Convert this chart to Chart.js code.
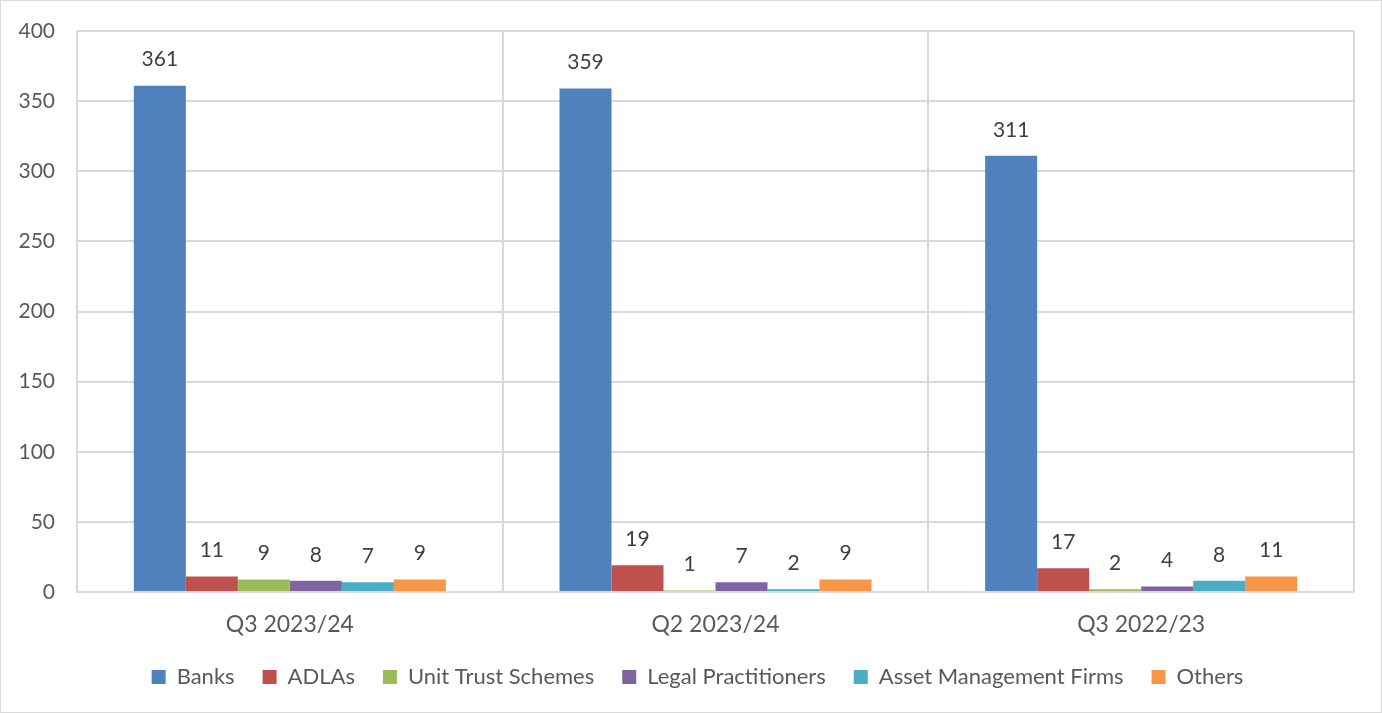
<!DOCTYPE html>
<html>
<head>
<meta charset="utf-8">
<script src="https://cdn.jsdelivr.net/npm/chart.js@4"></script>
<style>
  html, body { margin: 0; padding: 0; background: #fff; }
  #wrap { position: relative; width: 1382px; height: 713px; box-sizing: border-box; border: 1px solid #d9d9d9; }
</style>
</head>
<body>
<div id="wrap"><canvas id="chart"></canvas></div>
<script>
const periods = ['Q3 2023/24', 'Q2 2023/24', 'Q3 2022/23']
const banks = [361, 359, 311]
const adlas = [11, 19, 17]
const unitTrusts = [9, 1, 2]
const legalPractitioners = [8, 7, 4]
const assetManagers = [7, 2, 8]
const others = [9, 9, 11]
const yTicks = [0, 50, 100, 150, 200, 250, 300, 350, 400]

const FONT = 'Lato, "Open Sans", sans-serif'

// draws the value above every bar
const barValues = {
  id: 'barValues',
  afterDatasetsDraw(chart) {
    const ctx = chart.ctx
    ctx.save()
    ctx.font = '21px ' + FONT
    ctx.fillStyle = '#404040'
    ctx.textAlign = 'center'
    ctx.textBaseline = 'middle'
    chart.data.datasets.forEach((ds, i) => {
      chart.getDatasetMeta(i).data.forEach((bar, j) => {
        ctx.fillText(ds.data[j], bar.x, bar.y - 26)
      })
    })
    ctx.restore()
  }
}

// fixed legend height, and the legend nudged a bit to the right
const legendTweak = {
  id: 'legendTweak',
  afterInit(chart) {
    const legend = chart.legend
    const fit = legend.fit
    legend.fit = function () {
      fit.call(this)
      this.height = 74
    }
    const draw = legend.draw
    legend.draw = function () {
      chart.ctx.save()
      chart.ctx.translate(13, 0)
      draw.call(this)
      chart.ctx.restore()
    }
  }
}

function series(label, data, color) {
  return { label, data, backgroundColor: color, borderWidth: 0 }
}

new Chart(document.getElementById('chart'), {
  type: 'bar',
  data: {
    labels: periods,
    datasets: [
      series('Banks', banks, '#4f81bd'),
      series('ADLAs', adlas, '#c0504d'),
      series('Unit Trust Schemes', unitTrusts, '#9bbb59'),
      series('Legal Practitioners', legalPractitioners, '#8064a2'),
      series('Asset Management Firms', assetManagers, '#4bacc6'),
      series('Others', others, '#f79646'),
    ],
  },
  options: {
    responsive: true,
    maintainAspectRatio: false,
    animation: false,
    datasets: { bar: { categoryPercentage: 0.733, barPercentage: 1 } },
    layout: { padding: { left: 14, right: 27, top: 30, bottom: 0 } },
    plugins: {
      tooltip: { enabled: false },
      legend: {
        position: 'bottom',
        labels: {
          boxWidth: 14,
          boxHeight: 14,
          padding: 28,
          color: '#595959',
          font: { family: FONT, size: 22 },
        },
      },
    },
    scales: {
      x: {
        grid: { color: '#d9d9d9', lineWidth: 2, offset: true, drawTicks: false },
        border: { color: '#d9d9d9', width: 2 },
        ticks: { color: '#595959', padding: 19, font: { family: FONT, size: 23 } },
        afterFit: axis => { axis.height = 46 },
      },
      y: {
        min: 0,
        max: 400,
        afterBuildTicks: axis => { axis.ticks = yTicks.map(v => ({ value: v })) },
        grid: { color: '#d9d9d9', lineWidth: 2, drawTicks: false },
        border: { display: false },
        ticks: { color: '#595959', padding: 22, font: { family: FONT, size: 21 } },
        afterFit: axis => {
          axis.width = 62
          axis.paddingTop = 0
          axis.paddingBottom = 0
        },
      },
    },
  },
  plugins: [barValues, legendTweak],
})
</script>
</body>
</html>
